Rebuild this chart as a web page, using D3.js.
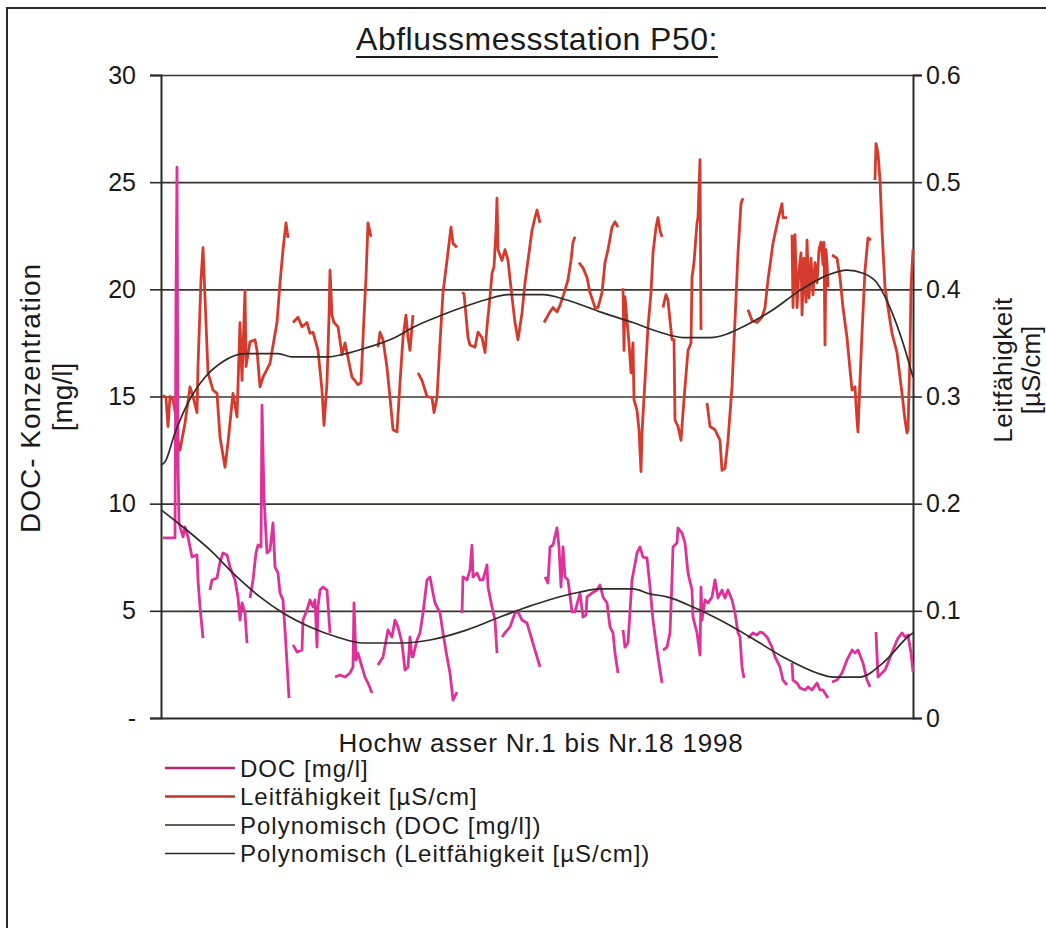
<!DOCTYPE html>
<html lang="de">
<head>
<meta charset="utf-8">
<title>Abflussmessstation P50</title>
<script src="https://cdn.jsdelivr.net/npm/d3@7"></script>
<style>
  body { margin: 0; background: #fff; font-family: "Liberation Sans", Arial, sans-serif; }
  svg text { fill: #1a1a1a; }
</style>
</head>
<body>
<svg id="chart" width="1046" height="928"></svg>
<script>
// x = sample position along the 18 flood events (0..752), gaps = null
var xDomain = [0, 752]
var leftTicks = [0, 5, 10, 15, 20, 25, 30]
var rightTicks = [0, 0.1, 0.2, 0.3, 0.4, 0.5, 0.6]

// DOC [mg/l] (left axis)
var docSeries = [
  [2,8.40],[14,8.40],[15,19.5],[16,25.7],[17,12.0],[18,9.10],[22,8.45],[24,8.91],[27,8.45],[31,7.51],[36,7.61],[37,6.44],[39,5.18],[42,3.73], null,
  [49,5.97],[51,6.44],[56,6.53],[59,7.28],[62,7.70],[66,7.61],[69,7.05],[74,6.44],[77,5.65],[79,4.57],[81,5.37],[84,4.90],[86,3.50], null,
  [89,5.60],[92,6.44],[95,7.70],[97,8.07],[100,7.98],[101,14.6],[103,10.3],[106,7.70],[109,7.84],[112,9.10],[114,7.05],[117,6.77],[119,5.83],[122,5.51],[124,4.11],[126,2.57],[128,0.93], null,
  [132,3.41],[136,3.08],[141,3.17],[142,4.57],[146,5.04],[149,5.51],[152,5.18],[154,5.51],[156,3.31],[157,5.18],[159,5.97],[162,6.11],[166,5.97],[169,3.97], null,
  [174,1.91],[179,2.01],[184,1.91],[189,2.10],[192,2.38],[193,5.37],[195,2.71],[197,3.03],[201,2.38],[204,1.91],[207,1.63],[211,1.17], null,
  [217,2.47],[222,2.85],[227,4.11],[231,3.78],[234,4.57],[237,4.25],[241,3.50],[244,2.24],[247,2.38],[249,3.78],[251,2.85],[252,2.85],[256,3.64],[259,3.97],[262,4.90],[266,6.44],[269,6.58],[272,5.83],[274,5.37],[279,4.90],[282,3.97],[286,2.85],[289,2.10],[292,0.84],[296,1.21], null,
  [301,4.90],[302,6.58],[306,6.44],[309,6.91],[311,8.07],[312,6.58],[316,6.77],[319,6.44],[322,6.44],[326,7.14],[327,6.11],[331,5.18],[334,4.57],[336,3.03], null,
  [341,3.78],[344,3.97],[349,4.25],[354,4.90],[357,4.95],[361,4.57],[366,4.43],[371,3.64],[374,3.17],[379,2.38], null,
  [384,6.58],[387,6.30],[389,7.98],[392,8.07],[396,8.87],[398,7.98],[400,6.11],[402,7.98],[404,6.58],[407,6.44],[411,4.95],[414,4.95],[419,5.83],[422,4.71],[425,4.81],[426,5.65],[431,5.83],[436,5.97],[439,6.21],[442,5.65],[446,5.37],[449,4.25],[452,3.97],[454,3.03],[457,2.10], null,
  [462,4.11],[464,3.31],[467,3.50],[471,6.44],[476,7.70],[479,7.98],[482,7.51],[486,7.47],[489,6.11],[492,4.57],[496,3.17],[501,1.63], null,
  [502,3.17],[506,3.31],[509,3.97],[511,6.44],[512,7.98],[516,8.17],[517,8.87],[521,8.63],[524,8.17],[527,6.77],[531,5.97],[532,4.71],[536,3.97],[539,2.94],[540,6.11],[541,4.57],[544,5.51],[547,5.37],[551,5.65],[554,6.44],[557,5.60],[561,5.97],[564,5.60],[567,5.97],[571,5.51],[574,4.90],[577,3.97],[579,3.78],[581,2.38],[583,1.87], null,
  [587,3.73],[592,3.97],[596,3.87],[599,4.01],[602,3.97],[606,3.78],[611,3.31],[614,2.85],[619,2.38],[622,1.77],[626,1.54], null,
  [631,2.57],[632,1.77],[636,1.63],[639,1.40],[644,1.31],[647,1.45],[651,1.31],[656,1.63],[659,1.31],[662,1.31],[667,0.93], null,
  [671,1.68],[676,1.77],[681,2.10],[686,2.71],[691,3.17],[694,3.03],[697,3.17],[702,2.57],[706,1.77],[709,1.45], null,
  [715,4.01],[717,1.91],[721,2.10],[724,2.24],[727,2.57],[732,3.17],[737,3.73],[741,3.97],[744,3.78],[747,3.87],[750,3.03],[752,2.15]
]

// Leitfähigkeit [µS/cm] (right axis)
var condSeries = [
  [2,0.301],[5,0.299],[7,0.272],[9,0.300],[12,0.297],[15,0.281],[17,0.259],[19,0.250],[24,0.275],[29,0.309],[32,0.300],[36,0.285],[37,0.328],[40,0.409],[42,0.439],[47,0.322],[52,0.306],[56,0.303],[59,0.262],[64,0.234],[67,0.257],[72,0.303],[76,0.281],[79,0.369],[81,0.315],[84,0.399],[85,0.328],[89,0.351],[94,0.353],[96,0.343],[99,0.309],[102,0.318],[109,0.331],[116,0.369],[119,0.406],[122,0.437],[125,0.462],[127,0.448], null,
  [132,0.369],[137,0.374],[141,0.365],[146,0.369],[149,0.359],[152,0.360],[157,0.343],[161,0.306],[163,0.273],[166,0.313],[168,0.374],[169,0.418],[171,0.376],[173,0.369],[177,0.365],[181,0.339],[184,0.350],[191,0.318],[197,0.311],[200,0.313],[203,0.374],[205,0.411],[207,0.462],[210,0.449], null,
  [217,0.346],[219,0.360],[222,0.353],[226,0.327],[229,0.299],[232,0.269],[236,0.267],[239,0.313],[242,0.355],[245,0.376],[247,0.355],[249,0.343],[252,0.376], null,
  [257,0.322],[261,0.315],[266,0.300],[271,0.299],[273,0.285],[276,0.299],[279,0.350],[282,0.397],[286,0.427],[290,0.458],[292,0.443],[296,0.439], null,
  [301,0.397],[303,0.396],[307,0.355],[309,0.348],[314,0.346],[317,0.360],[321,0.355],[324,0.341],[326,0.365],[329,0.393],[331,0.415],[333,0.421],[335,0.455],[336,0.485],[337,0.437],[341,0.427],[344,0.437],[347,0.427],[351,0.393],[354,0.369],[357,0.353],[361,0.378],[364,0.406],[367,0.427],[371,0.455],[374,0.467],[376,0.474],[379,0.462], null,
  [383,0.369],[389,0.379],[392,0.383],[396,0.379],[399,0.385],[404,0.399],[407,0.409],[410,0.427],[412,0.444],[414,0.449], null,
  [418,0.425],[422,0.420],[426,0.411],[429,0.397],[434,0.383],[437,0.383],[441,0.397],[444,0.425],[447,0.437],[451,0.458],[454,0.463],[457,0.458], null,
  [462,0.401],[463,0.343],[464,0.393],[466,0.371],[468,0.350],[470,0.322],[472,0.350],[473,0.297],[476,0.287],[478,0.269],[480,0.230],[481,0.266],[484,0.315],[487,0.365],[490,0.397],[492,0.434],[495,0.458],[497,0.467],[499,0.455],[501,0.449], null,
  [502,0.383],[505,0.395],[507,0.390],[509,0.371],[511,0.353],[513,0.353],[514,0.278],[517,0.272],[520,0.259],[522,0.285],[524,0.309],[527,0.343],[530,0.350],[531,0.411],[533,0.425],[536,0.462],[537,0.467],[539,0.521],[540,0.362], null,
  [546,0.294],[549,0.272],[554,0.269],[559,0.259],[561,0.231],[564,0.233],[567,0.259],[571,0.309],[574,0.371],[577,0.434],[580,0.480],[582,0.485], null,
  [587,0.381],[591,0.371],[596,0.369],[601,0.374],[604,0.383],[607,0.409],[612,0.443],[617,0.465],[621,0.480],[622,0.467],[626,0.467], null,
  [631,0.451],[632,0.383],[634,0.451],[636,0.383],[638,0.418],[640,0.434],[641,0.376],[643,0.429],[645,0.388],[646,0.446],[648,0.392],[650,0.429],[652,0.395],[654,0.425],[656,0.406],[658,0.437],[660,0.444],[662,0.423],[663,0.444],[664,0.348],[665,0.437],[666,0.425],[667,0.402], null,
  [671,0.432],[676,0.429],[679,0.411],[682,0.383],[686,0.355],[689,0.325],[691,0.306],[694,0.309],[696,0.278],[697,0.267],[699,0.315],[701,0.359],[704,0.418],[707,0.448],[710,0.446], null,
  [714,0.502],[715,0.536],[717,0.527],[719,0.502],[721,0.455],[724,0.402],[727,0.383],[731,0.359],[736,0.341],[741,0.303],[744,0.278],[746,0.266],[747,0.269],[749,0.341],[750,0.402],[752,0.437]
]

// Polynomial trend lines
var docTrend = [
  [0,9.71],[4,9.57],[22,8.91],[49,7.84],[76,6.58],[99,5.65],[122,4.90],[149,4.25],[176,3.78],[202,3.50],[242,3.50],[269,3.64],[306,4.11],[339,4.71],[372,5.27],[419,5.88],[439,6.02],[472,6.02],[489,5.79],[506,5.65],[532,5.18],[559,4.57],[589,3.78],[622,2.85],[656,2.10],[672,1.91],[699,1.91],[722,2.57],[749,3.87],[752,3.97]
]
var condTrend = [
  [0,0.236],[4,0.239],[14,0.266],[27,0.294],[44,0.318],[61,0.332],[84,0.340],[117,0.340],[131,0.337],[167,0.337],[189,0.341],[204,0.345],[234,0.355],[251,0.364],[281,0.376],[301,0.383],[324,0.390],[347,0.395],[382,0.395],[406,0.390],[439,0.379],[472,0.369],[499,0.360],[522,0.355],[549,0.355],[586,0.367],[612,0.381],[639,0.399],[666,0.413],[686,0.418],[702,0.415],[716,0.406],[729,0.383],[742,0.350],[752,0.318]
]

var legendLabels = ["DOC [mg/l]", "Leitfähigkeit [µS/cm]", "Polynomisch (DOC [mg/l])", "Polynomisch (Leitfähigkeit [µS/cm])"]
var legendColors = ["#b8246e", "#c0352a", "#2e2a24", "#2e2a24"]

var docColor = "#e0309a", condColor = "#d63a2c", trendColor = "#302b24", gridColor = "#3a362e"

var svg = d3.select("#chart")
var pL = 161, pR = 913, pT = 75, pB = 718   // plot area

var x = d3.scaleLinear().domain(xDomain).range([pL, pR])
var yL = d3.scaleLinear().domain([0, 30]).range([pB, pT])
var yR = d3.scaleLinear().domain([0, 0.6]).range([pB, pT])

// outer frame
svg.append("rect").attr("x", 7).attr("y", 8).attr("width", 1060).attr("height", 940)
  .attr("fill", "none").attr("stroke", "#2a2a2a").attr("stroke-width", 2)

// title
var title = svg.append("text").attr("x", 537).attr("y", 50).attr("text-anchor", "middle")
  .style("font-size", "32px").style("letter-spacing", "0.5px").text("Abflussmessstation P50:")
var tb = title.node().getBBox()
svg.append("line").attr("x1", tb.x).attr("x2", tb.x + tb.width).attr("y1", 57).attr("y2", 57)
  .attr("stroke", "#1a1a1a").attr("stroke-width", 2.2)

// gridlines
svg.append("g").attr("transform", "translate(" + pL + ",0)")
  .call(d3.axisLeft(yL).tickValues(leftTicks.slice(1)).tickSize(-(pR - pL)).tickFormat(""))
  .call(function(g) { g.select(".domain").remove() })
  .selectAll("line").attr("stroke", gridColor).attr("stroke-width", 1.6)

// left axis
var gl = svg.append("g").attr("transform", "translate(" + pL + ",0)")
  .call(d3.axisLeft(yL).tickValues(leftTicks).tickSize(11).tickPadding(14)
    .tickFormat(function(d) { return d === 0 ? "-" : d }))
gl.select(".domain").attr("stroke", "#2a2a2a").attr("stroke-width", 2)
gl.selectAll("line").attr("stroke", "#2a2a2a").attr("stroke-width", 1.6)
gl.selectAll("text").style("font-size", "25px").style("font-family", "Liberation Sans, Arial, sans-serif").attr("fill", "#1a1a1a")

// right axis
var gr = svg.append("g").attr("transform", "translate(" + pR + ",0)")
  .call(d3.axisRight(yR).tickValues(rightTicks).tickSize(9).tickPadding(4)
    .tickFormat(function(d) { return d === 0 ? "0" : d3.format(".1f")(d) }))
gr.select(".domain").attr("stroke", "#2a2a2a").attr("stroke-width", 2)
gr.selectAll("line").attr("stroke", "#2a2a2a").attr("stroke-width", 1.6)
gr.selectAll("text").style("font-size", "25px").style("font-family", "Liberation Sans, Arial, sans-serif").attr("fill", "#1a1a1a")

// bottom axis line
svg.append("g").attr("transform", "translate(0," + pB + ")")
  .call(d3.axisBottom(x).tickValues([]).tickSizeOuter(0))
  .select(".domain").attr("stroke", "#2a2a2a").attr("stroke-width", 2)

// series
var lineL = d3.line().defined(function(d) { return d }).x(function(d) { return x(d[0]) }).y(function(d) { return yL(d[1]) })
var lineR = d3.line().defined(function(d) { return d }).x(function(d) { return x(d[0]) }).y(function(d) { return yR(d[1]) })

svg.append("path").datum(condSeries).attr("d", lineR).attr("fill", "none")
  .attr("stroke", condColor).attr("stroke-width", 2.8).attr("stroke-linejoin", "round")
svg.append("path").datum(docSeries).attr("d", lineL).attr("fill", "none")
  .attr("stroke", docColor).attr("stroke-width", 2.8).attr("stroke-linejoin", "round")
svg.append("path").datum(condTrend).attr("d", lineR.curve(d3.curveMonotoneX)).attr("fill", "none")
  .attr("stroke", trendColor).attr("stroke-width", 1.7)
svg.append("path").datum(docTrend).attr("d", lineL.curve(d3.curveMonotoneX)).attr("fill", "none")
  .attr("stroke", trendColor).attr("stroke-width", 1.7)

// axis titles
svg.append("text").attr("transform", "translate(40,398) rotate(-90)").attr("text-anchor", "middle")
  .style("font-size", "28px").style("letter-spacing", "1px").text("DOC- Konzentration")
svg.append("text").attr("transform", "translate(72,397) rotate(-90)").attr("text-anchor", "middle")
  .style("font-size", "28px").text("[mg/l]")
svg.append("text").attr("transform", "translate(1012,370) rotate(-90)").attr("text-anchor", "middle")
  .style("font-size", "26px").style("letter-spacing", "0.5px").text("Leitfähigkeit")
svg.append("text").attr("transform", "translate(1040,370) rotate(-90)").attr("text-anchor", "middle")
  .style("font-size", "26px").text("[µS/cm]")

svg.append("text").attr("x", 541).attr("y", 752).attr("text-anchor", "middle")
  .style("font-size", "26px").style("letter-spacing", "0.8px").text("Hochw asser Nr.1 bis Nr.18 1998")

// legend
var leg = svg.append("g").selectAll("g").data(legendLabels).enter().append("g")
  .attr("transform", function(d, i) { return "translate(165," + (768 + i * 28.5) + ")" })
leg.append("line").attr("x1", 0).attr("x2", 70).attr("y1", 0).attr("y2", 0)
  .attr("stroke", function(d, i) { return legendColors[i] }).attr("stroke-width", function(d, i) { return i < 2 ? 2.4 : 1.6 })
leg.append("text").attr("x", 75).attr("y", 8.5).style("font-size", "24px").style("letter-spacing", "1px")
  .text(function(d) { return d })
</script>
</body>
</html>
